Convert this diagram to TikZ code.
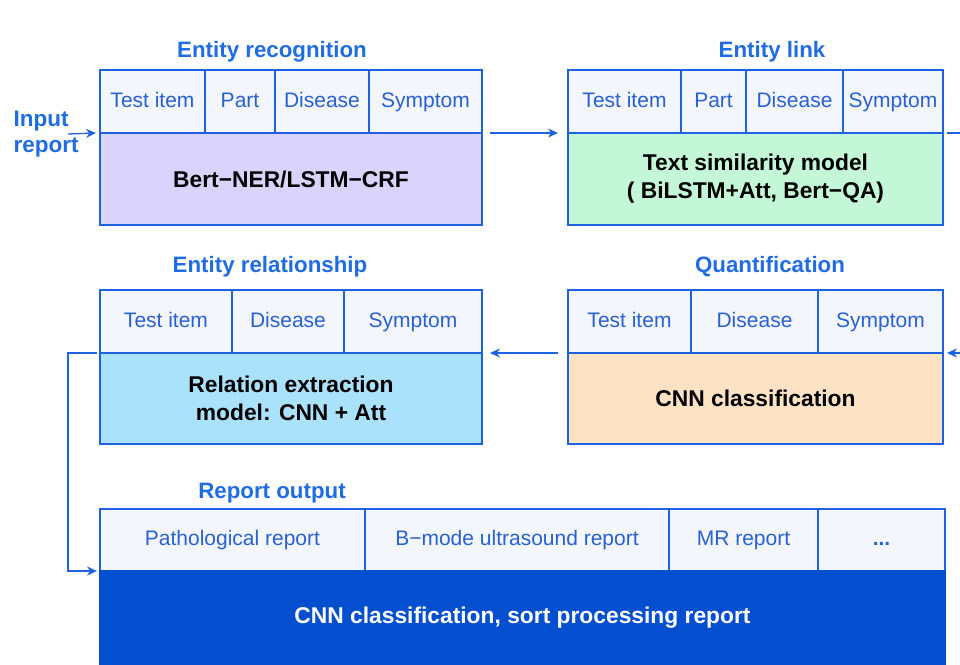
\documentclass[tikz,border=0pt]{standalone}
\usepackage{fontspec}
\setmainfont{Liberation Sans}
\usetikzlibrary{positioning,arrows.meta}
\definecolor{frameblue}{RGB}{30,98,226}
\definecolor{titleblue}{RGB}{32,108,228}
\definecolor{cellblue}{RGB}{40,96,214}
\definecolor{headfill}{RGB}{243,246,253}
\definecolor{nerfill}{RGB}{218,211,251}
\definecolor{linkfill}{RGB}{196,247,216}
\definecolor{relfill}{RGB}{170,225,251}
\definecolor{quantfill}{RGB}{253,227,196}
\definecolor{outfill}{RGB}{4,78,208}
\tikzset{
	cell/.style={draw=frameblue, fill=headfill, line width=1.6pt, outer sep=0pt, inner sep=0pt,
		minimum height=63pt, text=cellblue, text height=15pt, text depth=4pt, font=\fontsize{21}{24}\selectfont},
	body/.style={draw=frameblue, line width=1.6pt, outer sep=0pt, inner sep=0pt,
		minimum height=92pt, align=center, font=\fontsize{22.8}{28}\selectfont\bfseries},
	title/.style={text=titleblue, font=\fontsize{22.3}{26}\selectfont\bfseries},
	wire/.style={draw=frameblue, line width=1.3pt},
	flow/.style={wire, -{Stealth[length=10pt,width=9pt]}}
}

\begin{document}
\begin{tikzpicture}[x=1pt,y=-1pt]
	\useasboundingbox[fill=white] (0,0) rectangle (960,664);
	
	% entity recognition
	\node[title] (er-title) at (272,52) {Entity recognition};
	\node[cell, minimum width=105pt, anchor=north west] (er1) at (100,70) {Test item};
	\node[cell, minimum width=70pt, right=0pt of er1] (er2) {Part};
	\node[cell, minimum width=94pt, right=0pt of er2] (er3) {Disease};
	\node[cell, minimum width=113pt, right=0pt of er3] (er4) {Symptom};
	\node[body, minimum width=382pt, fill=nerfill, anchor=north west] (er-body) at (er1.south west) {Bert−NER/LSTM−CRF};
	
	% entity link
	\node[title] (el-title) at (772,52) {Entity link};
	\node[cell, minimum width=113pt, anchor=north west] (el1) at (568,70) {Test item};
	\node[cell, minimum width=65pt, right=0pt of el1] (el2) {Part};
	\node[cell, minimum width=97pt, right=0pt of el2] (el3) {Disease};
	\node[cell, minimum width=100pt, right=0pt of el3] (el4) {Symptom};
	\node[body, minimum width=375pt, fill=linkfill, anchor=north west] (el-body) at (el1.south west) {Text similarity model\\( BiLSTM+Att, Bert−QA)};
	
	% entity relationship
	\node[title] (rel-title) at (270,267) {Entity relationship};
	\node[cell, minimum width=132pt, anchor=north west] (rel1) at (100,290) {Test item};
	\node[cell, minimum width=112pt, right=0pt of rel1] (rel2) {Disease};
	\node[cell, minimum width=138pt, right=0pt of rel2] (rel3) {Symptom};
	\node[body, minimum width=382pt, minimum height=91pt, fill=relfill, anchor=north west] (rel-body) at (rel1.south west) {Relation extraction\\ model: CNN + Att};
	
	% quantification
	\node[title] (qt-title) at (770,267) {Quantification};
	\node[cell, minimum width=123pt, anchor=north west] (qt1) at (568,290) {Test item};
	\node[cell, minimum width=127pt, right=0pt of qt1] (qt2) {Disease};
	\node[cell, minimum width=125pt, right=0pt of qt2] (qt3) {Symptom};
	\node[body, minimum width=375pt, minimum height=91pt, fill=quantfill, anchor=north west] (qt-body) at (qt1.south west) {CNN classification};
	
	% report output
	\node[title] (out-title) at (272,493) {Report output};
	\node[cell, minimum width=265pt, minimum height=62pt, anchor=north west] (out1) at (100,509) {Pathological report};
	\node[cell, minimum width=304pt, minimum height=62pt, right=0pt of out1] (out2) {B−mode ultrasound report};
	\node[cell, minimum width=149pt, minimum height=62pt, right=0pt of out2] (out3) {MR report};
	\node[cell, minimum width=127pt, minimum height=62pt, right=0pt of out3, font=\fontsize{21}{24}\selectfont\bfseries] (out4) {...};
	\node[body, minimum width=845pt, minimum height=94pt, draw=outfill, fill=outfill, text=white, anchor=north west] (out-body) at (out1.south west) {CNN classification, sort processing report};
	
	% input and connectors
	\node[title, align=left, anchor=west, font=\fontsize{22.5}{26}\selectfont\bfseries] (input) at (10,134) {Input\\report};
	\coordinate (in-start) at (68,134);
	\coordinate (off-top) at (975,133);
	\coordinate (off-mid) at (975,353);
	\draw[flow] (in-start) -- ([xshift=-4pt]er-body.north west);
	\draw[flow] ([xshift=8pt]er-body.north east) -- ([xshift=-10pt]el-body.north west);
	\draw[wire] ([xshift=4pt]el-body.north east) -- (off-top);
	\draw[flow] (off-mid) -- ([xshift=4pt]qt-body.north east);
	\draw[flow] ([xshift=-10pt]qt-body.north west) -- ([xshift=8pt]rel-body.north east);
	\draw[flow] ([xshift=-3pt]rel-body.north west) -- ++(-29,0) |- ([xshift=-3pt]out-body.north west);
\end{tikzpicture}
\end{document}
